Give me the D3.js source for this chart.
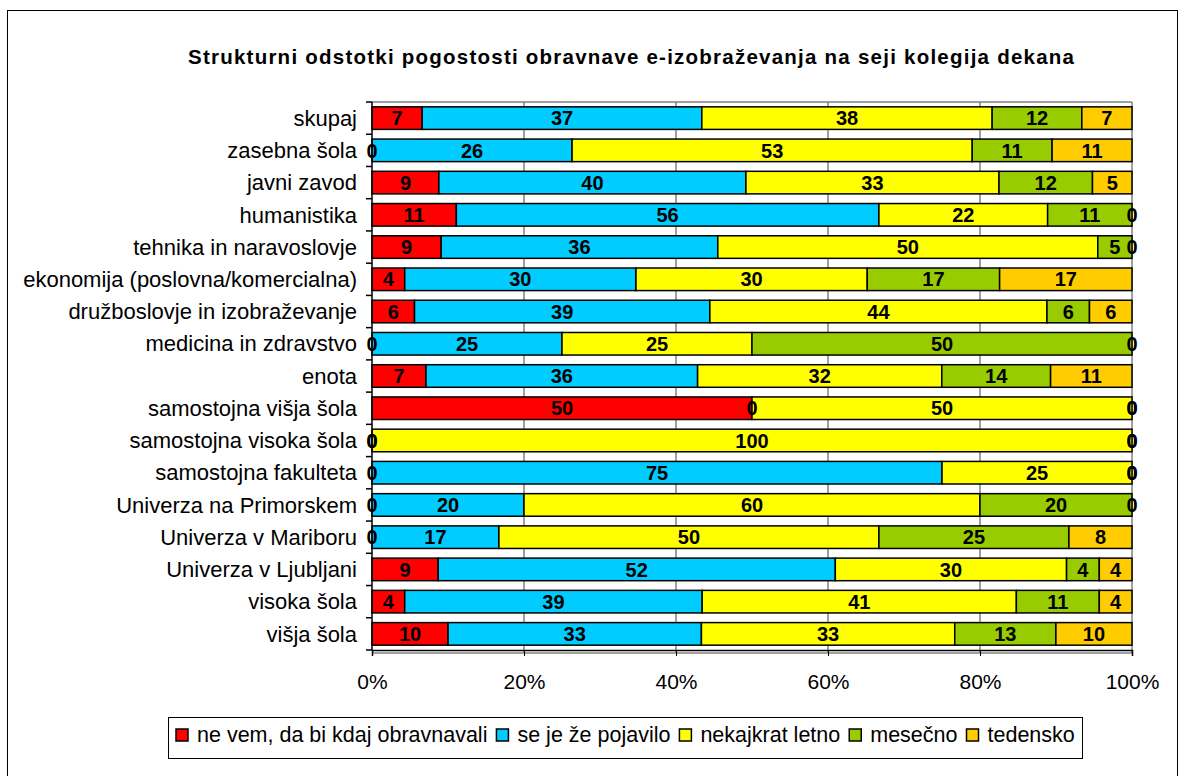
<!DOCTYPE html>
<html>
<head>
<meta charset="utf-8">
<script src="https://cdn.jsdelivr.net/npm/d3@7"></script>
<style>
  body { margin: 0; background: #fff; }
  text { font-family: "Liberation Sans", Arial, sans-serif; }
</style>
</head>
<body>
<div id="svgDiv"></div>
<script>
//chart data
var title = "Strukturni odstotki pogostosti obravnave e-izobraževanja na seji kolegija dekana";
var categories = ["skupaj", "zasebna šola", "javni zavod", "humanistika", "tehnika in naravoslovje",
    "ekonomija (poslovna/komercialna)", "družboslovje in izobraževanje", "medicina in zdravstvo", "enota",
    "samostojna višja šola", "samostojna visoka šola", "samostojna fakulteta", "Univerza na Primorskem",
    "Univerza v Mariboru", "Univerza v Ljubljani", "visoka šola", "višja šola"];
var seriesNames = ["ne vem, da bi kdaj obravnavali", "se je že pojavilo", "nekajkrat letno", "mesečno", "tedensko"];
var neVem      = [6.6, 0, 8.8, 11.1, 9.1, 4.3, 5.6, 0, 7.1, 50, 0, 0, 0, 0, 8.7, 4.3, 10];
var pojavilo   = [36.8, 26.3, 40.4, 55.6, 36.4, 30.4, 38.9, 25, 35.7, 0, 0, 75, 20, 16.7, 52.2, 39.1, 33.3];
var letno      = [38.2, 52.6, 33.3, 22.2, 50, 30.4, 44.4, 25, 32.1, 50, 100, 25, 60, 50, 30.4, 41.3, 33.3];
var mesecno    = [11.8, 10.5, 12.3, 11.1, 4.5, 17.4, 5.6, 50, 14.3, 0, 0, 0, 20, 25, 4.3, 10.9, 13.3];
var tedensko   = [6.6, 10.5, 5.2, 0, 0, 17.4, 5.6, 0, 10.7, 0, 0, 0, 0, 8.3, 4.3, 4.3, 10];
var tickValues = [0, 0.2, 0.4, 0.6, 0.8, 1];
var colors = ["#ff0000", "#00ccff", "#ffff00", "#99cc00", "#ffcc00"];

var svgWidth = 1182, svgHeight = 776;
var plotLeft = 372, plotRight = 1132, plotTop = 102, plotBottom = 650;

var svg = d3.select("#svgDiv").append("svg")
    .attr("width", svgWidth)
    .attr("height", svgHeight);

//outer chart border
svg.append("rect")
    .attr("x", 7.5).attr("y", 10.5)
    .attr("width", 1170).attr("height", 780)
    .attr("fill", "none").attr("stroke", "#000").attr("stroke-width", 1);

svg.append("text")
    .attr("x", 631).attr("y", 64)
    .attr("text-anchor", "middle")
    .attr("font-size", 20.5).attr("font-weight", "bold")
    .attr("textLength", 886).attr("lengthAdjust", "spacing")
    .text(title);

//building rows for the stack
var keys = ["a", "b", "c", "d", "e"];
var rows = categories.map(function(c, i) {
    return { cat: c, a: neVem[i], b: pojavilo[i], c: letno[i], d: mesecno[i], e: tedensko[i] };
});

var stacked = d3.stack().keys(keys).offset(d3.stackOffsetExpand)(rows);

var x = d3.scaleLinear().domain([0, 1]).range([plotLeft, plotRight]);
var y = d3.scaleBand().domain(categories).range([plotTop, plotBottom])
    .paddingInner(0.3).paddingOuter(0.15);

//gridlines and plot frame (gray)
svg.append("g").selectAll("line")
    .data(tickValues.slice(1))
    .enter().append("line")
    .attr("x1", function(d) { return x(d); })
    .attr("x2", function(d) { return x(d); })
    .attr("y1", plotTop).attr("y2", plotBottom + 3)
    .attr("stroke", "#808080").attr("stroke-width", 1.5);
svg.append("line")
    .attr("x1", plotLeft).attr("x2", plotRight)
    .attr("y1", plotTop).attr("y2", plotTop)
    .attr("stroke", "#808080").attr("stroke-width", 1.5);
svg.append("line")
    .attr("x1", plotLeft).attr("x2", plotRight)
    .attr("y1", plotBottom + 3).attr("y2", plotBottom + 3)
    .attr("stroke", "#808080").attr("stroke-width", 1.5);

//bars
var layer = svg.append("g").selectAll("g")
    .data(stacked)
    .enter().append("g")
    .attr("fill", function(d, i) { return colors[i]; });

layer.selectAll("rect")
    .data(function(d) { return d; })
    .enter().append("rect")
    .attr("x", function(d) { return x(d[0]); })
    .attr("y", function(d) { return y(d.data.cat); })
    .attr("width", function(d) { return x(d[1]) - x(d[0]); })
    .attr("height", y.bandwidth())
    .attr("stroke", "#000").attr("stroke-width", 1.5);

//axes
svg.append("g")
    .attr("transform", "translate(0," + plotBottom + ")")
    .call(d3.axisBottom(x).tickValues(tickValues).tickFormat(d3.format(".0%")).tickSize(6).tickPadding(18))
    .call(function(g) {
        g.select(".domain").attr("stroke-width", 1.5);
        g.selectAll("text").attr("font-size", 21).attr("font-family", "Liberation Sans, Arial, sans-serif");
    });

var step = y.step();
var yTicks = d3.range(categories.length + 1).map(function(i) { return plotTop + i * step; });
svg.append("line")
    .attr("x1", plotLeft).attr("x2", plotLeft)
    .attr("y1", plotTop).attr("y2", plotBottom)
    .attr("stroke", "#000").attr("stroke-width", 1.5);
svg.append("g").selectAll("line")
    .data(yTicks)
    .enter().append("line")
    .attr("x1", plotLeft - 6).attr("x2", plotLeft)
    .attr("y1", function(d) { return d; }).attr("y2", function(d) { return d; })
    .attr("stroke", "#000").attr("stroke-width", 1.5);

svg.append("g").selectAll("text")
    .data(categories)
    .enter().append("text")
    .attr("x", plotLeft - 15)
    .attr("y", function(d) { return y(d) + y.bandwidth() / 2; })
    .attr("dy", "0.35em")
    .attr("text-anchor", "end")
    .attr("font-size", 22)
    .text(function(d) { return d; });

//value labels, drawn after all bars so zeros sit on top
var labelData = [];
stacked.forEach(function(s) {
    s.forEach(function(p) { labelData.push({ p: p, key: s.key }); });
});
svg.append("g").selectAll("text")
    .data(labelData)
    .enter().append("text")
    .attr("x", function(d) { return (x(d.p[0]) + x(d.p[1])) / 2; })
    .attr("y", function(d) { return y(d.p.data.cat) + y.bandwidth() / 2; })
    .attr("dy", "0.36em")
    .attr("text-anchor", "middle")
    .attr("font-size", 20).attr("font-weight", "bold")
    .attr("fill", "#000")
    .text(function(d) { return Math.round(d.p.data[d.key]); });

//legend
var legend = svg.append("g");
legend.append("rect")
    .attr("x", 168.5).attr("y", 717.5)
    .attr("width", 914).attr("height", 41)
    .attr("fill", "#fff").attr("stroke", "#000").attr("stroke-width", 1);

var lx = 176;
seriesNames.forEach(function(name, i) {
    legend.append("rect")
        .attr("x", lx).attr("y", 729)
        .attr("width", 12).attr("height", 12)
        .attr("fill", colors[i]).attr("stroke", "#000").attr("stroke-width", 1.5);
    var t = legend.append("text")
        .attr("x", lx + 21).attr("y", 742)
        .attr("font-size", 21.5)
        .text(name);
    lx += 21 + t.node().getComputedTextLength() + 9;
});
</script>
</body>
</html>
